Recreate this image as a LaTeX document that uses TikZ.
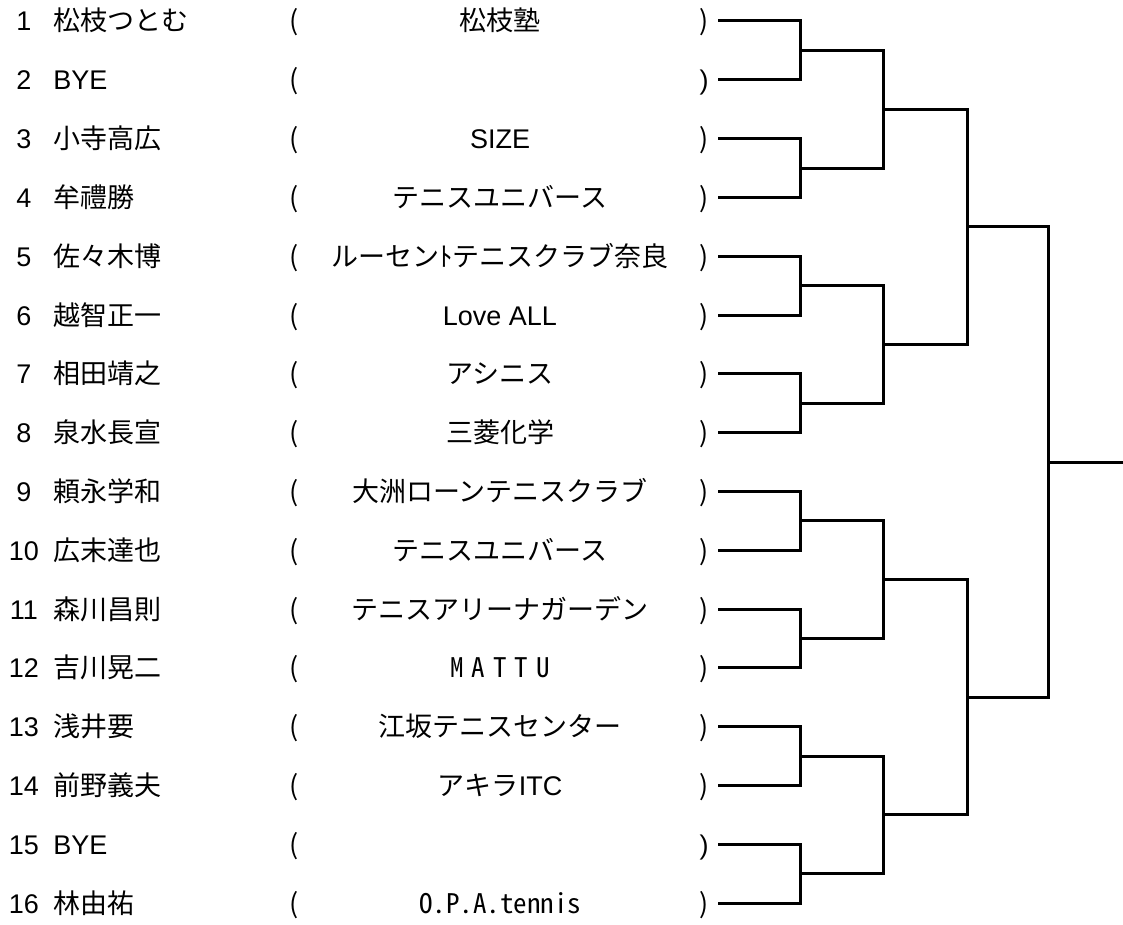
\documentclass[tikz,border=0pt]{standalone}
\usepackage{fontspec}
\setmainfont{Liberation Sans}
\newfontfamily\lat{Liberation Sans}
\newfontfamily\jp{Noto Sans CJK JP}
\newfontfamily\half{Noto Sans CJK JP}[RawFeature=+hwid]
\tikzset{
    entry/.style={inner sep=0pt, font=\fontsize{20.25pt}{24pt}\selectfont},
    bracket/.style={line width=2.25pt, line join=miter}
}
\begin{document}
\begin{tikzpicture}[x=0.75pt, y=-0.75pt]

        \def\top{21}
        \def\dy{58.8}

        \path [use as bounding box, fill=white] (0,0) rectangle (1123,924);

        \foreach \i/\who/\club/\rpf in {
            1/{\jp 松枝つとむ}/{\jp 松枝塾}/\jp,
            2/BYE/{}/\lat,
            3/{\jp 小寺高広}/SIZE/\jp,
            4/{\jp 牟禮勝}/{\jp テニスユニバース}/\jp,
            5/{\jp 佐々木博}/{\jp ルーセンﾄテニスクラブ奈良}/\jp,
            6/{\jp 越智正一}/Love ALL/\jp,
            7/{\jp 相田靖之}/{\jp アシニス}/\jp,
            8/{\jp 泉水長宣}/{\jp 三菱化学}/\jp,
            9/{\jp 頼永学和}/{\jp 大洲ローンテニスクラブ}/\jp,
            10/{\jp 広末達也}/{\jp テニスユニバース}/\jp,
            11/{\jp 森川昌則}/{\jp テニスアリーナガーデン}/\jp,
            12/{\jp 吉川晃二}/{\half\addfontfeature{LetterSpace=30}MATTU}/\jp,
            13/{\jp 浅井要}/{\jp 江坂テニスセンター}/\jp,
            14/{\jp 前野義夫}/{{\jp アキラ}ITC}/\jp,
            15/BYE/{}/\lat,
            16/{\jp 林由祐}/{\half O.P.A.tennis}/\jp} {
            \pgfmathsetmacro\y{\top+(\i-1)*\dy}
            \node [entry, anchor=base] (num\i) at (24, \y+10) {\i};
            \node [entry, anchor=base west] (name\i) at (53, \y+10) {\who};
            \node [entry, anchor=base] (lp\i) at (294, \y+10) {\jp (};
            \node [entry, anchor=base] (club\i) at (500, \y+10) {\club};
            \node [entry, anchor=base] (rp\i) at (704, \y+10) {\rpf )};
            \coordinate (r\i) at (718, \y);
        }

        \foreach \i in {1,...,8} \coordinate (m\i) at (800, {\top+(2*\i-1.5)*\dy});
        \foreach \i in {1,...,4} \coordinate (q\i) at (883, {\top+(4*\i-2.5)*\dy});
        \foreach \i in {1,2} \coordinate (s\i) at (967, {\top+(8*\i-4.5)*\dy});
        \coordinate (f) at (1048, {\top+7.5*\dy});
        \coordinate (win) at (1123, {\top+7.5*\dy});

        \foreach \i in {1,...,8} {
            \pgfmathtruncatemacro\a{2*\i-1}
            \pgfmathtruncatemacro\b{2*\i}
            \draw [bracket] (r\a) -| (m\i) |- (r\b);
        }
        \foreach \i in {1,...,4} {
            \pgfmathtruncatemacro\a{2*\i-1}
            \pgfmathtruncatemacro\b{2*\i}
            \draw [bracket] (m\a) -| (q\i) |- (m\b);
        }
        \foreach \i in {1,2} {
            \pgfmathtruncatemacro\a{2*\i-1}
            \pgfmathtruncatemacro\b{2*\i}
            \draw [bracket] (q\a) -| (s\i) |- (q\b);
        }
        \draw [bracket] (s1) -| (f) |- (s2);
        \draw [bracket] (f) -- (win);

    \end{tikzpicture}
\end{document}
